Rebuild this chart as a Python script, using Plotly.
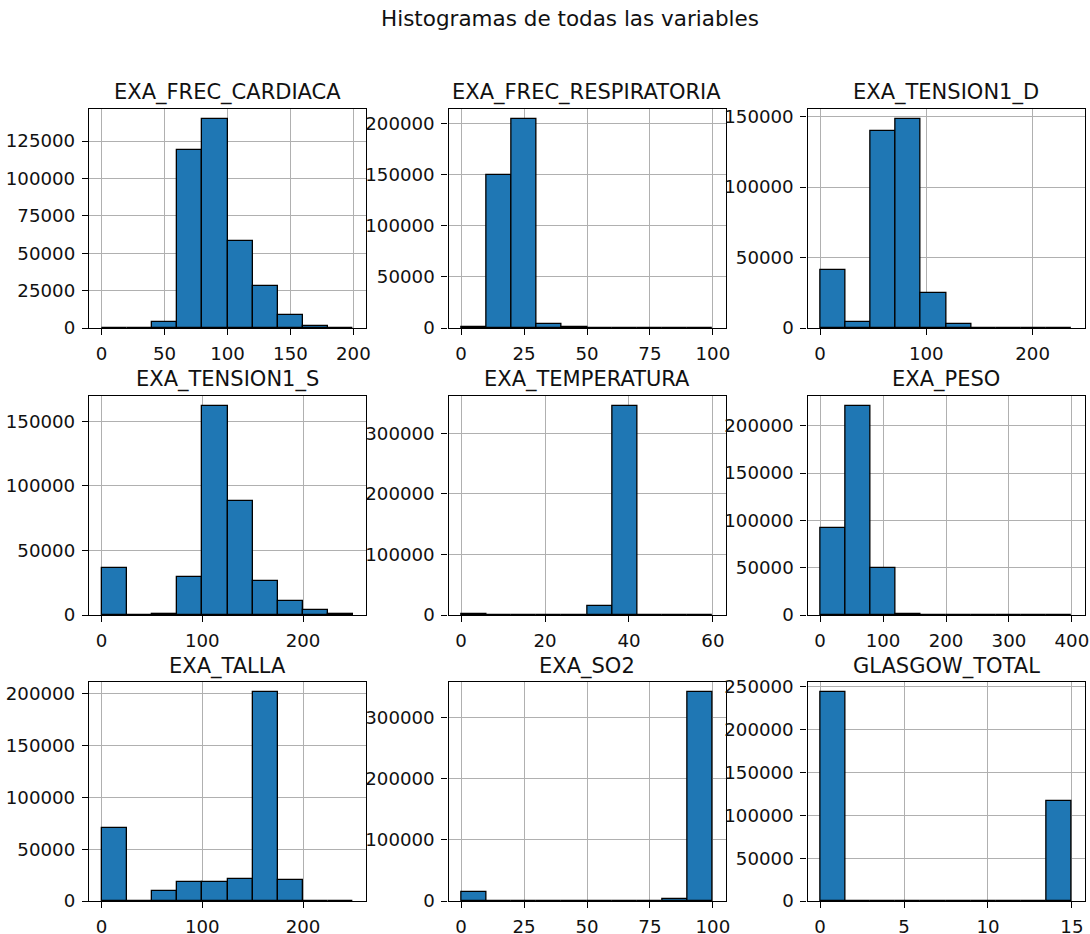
import numpy as np
import plotly.graph_objects as go

# ---- data ----
variables = ["EXA_FREC_CARDIACA", "EXA_FREC_RESPIRATORIA", "EXA_TENSION1_D",
             "EXA_TENSION1_S", "EXA_TEMPERATURA", "EXA_PESO",
             "EXA_TALLA", "EXA_SO2", "GLASGOW_TOTAL"]

frec_cardiaca_range = [0, 200]
frec_cardiaca_counts = [200, 300, 4200, 119000, 139500, 58500, 28000, 8500, 1500, 300]

frec_resp_range = [0, 100]
frec_resp_counts = [1200, 149500, 204000, 3500, 1000, 200, 100, 100, 100, 200]

tension_d_range = [0, 237]
tension_d_counts = [41000, 4500, 139500, 148000, 24500, 2500, 300, 200, 100, 200]

tension_s_range = [0, 250]
tension_s_counts = [36500, 200, 800, 29500, 161500, 88000, 26500, 10500, 3500, 800]

temperatura_range = [0, 60]
temperatura_counts = [1500, 0, 0, 0, 0, 14500, 344500, 0, 0, 0]

peso_range = [0, 400]
peso_counts = [92000, 220500, 49500, 1500, 200, 100, 100, 100, 100, 100]

talla_range = [0, 250]
talla_counts = [71000, 200, 10000, 18500, 18500, 21000, 201500, 20000, 300, 300]

so2_range = [0, 100]
so2_counts = [15000, 0, 0, 0, 0, 0, 0, 200, 3500, 340500]

glasgow_range = [0, 15]
glasgow_counts = [243500, 0, 0, 0, 0, 0, 0, 0, 0, 116500]

ranges = [frec_cardiaca_range, frec_resp_range, tension_d_range, tension_s_range,
          temperatura_range, peso_range, talla_range, so2_range, glasgow_range]
counts = [frec_cardiaca_counts, frec_resp_counts, tension_d_counts, tension_s_counts,
          temperatura_counts, peso_counts, talla_counts, so2_counts, glasgow_counts]

x_dticks = [50, 25, 100, 100, 20, 100, 100, 25, 5]
y_dticks = [25000, 50000, 50000, 50000, 100000, 50000, 50000, 100000, 50000]

suptitle = "Histogramas de todas las variables"

# ---- layout in page pixels (body margin removed below) ----
W, H = 1090, 934
col_left = [89, 448.5, 807.5]
col_w = 277
row_top = [109, 396, 682]
row_h = 219

FONT = "DejaVu Sans"
fig = go.Figure()


def px_x(v):
    return v / W


def px_y(v):
    return 1 - v / H


for i, (name, rng, cnt) in enumerate(zip(variables, ranges, counts)):
    r, c = divmod(i, 3)
    n = len(cnt)
    edges = np.linspace(rng[0], rng[1], n + 1)
    centers = (edges[:-1] + edges[1:]) / 2
    width = edges[1] - edges[0]
    ax = "" if i == 0 else str(i + 1)
    fig.add_trace(go.Bar(
        x=centers, y=cnt, width=width,
        marker=dict(color="#1f77b4", line=dict(color="black", width=1.3)),
        xaxis="x" + ax, yaxis="y" + ax, showlegend=False,
    ))
    span = rng[1] - rng[0]
    x0 = px_x(col_left[c])
    x1 = px_x(col_left[c] + col_w)
    y1 = px_y(row_top[r])
    y0 = px_y(row_top[r] + row_h)
    common = dict(showline=True, mirror=True, linecolor="black", linewidth=1.3,
                  ticks="outside", ticklen=6, tickwidth=1.3, tickcolor="black",
                  showgrid=True, gridcolor="#b0b0b0", gridwidth=1.3,
                  zeroline=False, layer="above traces", automargin=False,
                  ticklabelstandoff=3, ticklabeloverflow="allow",
                  tickfont=dict(family=FONT, size=18.2, color="#111"))
    fig.layout["xaxis" + ax] = dict(
        domain=[x0, x1], anchor="y" + ax,
        range=[rng[0] - 0.05 * span, rng[1] + 0.05 * span],
        tick0=0, dtick=x_dticks[i], **common)
    fig.layout["yaxis" + ax] = dict(
        domain=[y0, y1], anchor="x" + ax,
        range=[0, max(cnt) * 1.05], tick0=0, dtick=y_dticks[i],
        tickformat="d", **common)
    fig.add_annotation(
        text=name, xref="paper", yref="paper",
        x=(x0 + x1) / 2, y=px_y(row_top[r] - 16),
        xanchor="center", yanchor="middle", showarrow=False,
        font=dict(family=FONT, size=21, color="#111"))

fig.add_annotation(
    text=suptitle, xref="paper", yref="paper",
    x=px_x(570), y=px_y(18.5), xanchor="center", yanchor="middle",
    showarrow=False, font=dict(family=FONT, size=21.5, color="#111"))

fig.update_layout(
    width=W, height=H, margin=dict(l=0, r=0, t=0, b=0, autoexpand=False),
    paper_bgcolor="white", plot_bgcolor="white", bargap=0,
    font=dict(family=FONT),
)

fig.write_html(
    "out.html",
    config={"displayModeBar": False},
    post_script="document.body.style.margin='0px';"
                "document.documentElement.style.overflow='hidden';",
)
